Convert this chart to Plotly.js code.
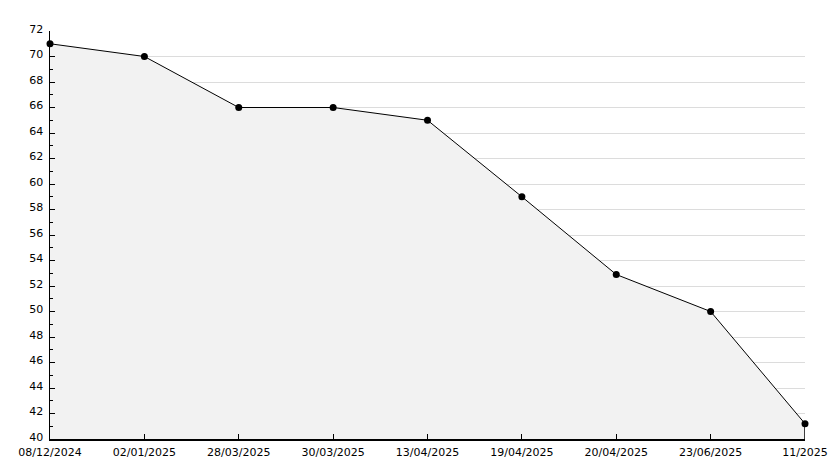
<!DOCTYPE html>
<html><head><meta charset="utf-8">
<script src="https://cdn.plot.ly/plotly-3.0.1.min.js"></script>
<style>html,body{margin:0;padding:0;background:#fff}#c{width:834px;height:468px}</style>
</head><body><div id="c"></div>
<script>
const dates = ["08/12/2024","02/01/2025","28/03/2025","30/03/2025","13/04/2025","19/04/2025","20/04/2025","23/06/2025","11/2025"];
const values = [71, 70, 66, 66, 65, 59, 52.9, 50, 41.2];
const yMin = 40, yMax = 72;

const idx = dates.map((d,i)=>i);
const last = idx.length-1;

const traces = [
  {x: idx, y: values, type:'scatter', mode:'lines', fill:'tozeroy', fillcolor:'#f2f2f2',
   line:{color:'#000', width:1}, hoverinfo:'skip'},
  {x: [last,last], y:[values[last], yMin], type:'scatter', mode:'lines', line:{color:'#000', width:1.5}, hoverinfo:'skip'},
  {x: idx, y: values, type:'scatter', mode:'markers', cliponaxis:false,
   marker:{color:'#000', size:7, symbol:'circle'}, hoverinfo:'skip'}
];

const layout = {
  width:834, height:468, showlegend:false,
  paper_bgcolor:'#fff', plot_bgcolor:'#fff',
  margin:{l:50, r:29, t:31, b:29},
  font:{family:'DejaVu Sans, sans-serif', size:11, color:'#000'},
  xaxis:{range:[0,last], tickmode:'array', tickvals:idx, ticktext:dates, showgrid:false, zeroline:false,
         showline:true, linecolor:'#000', linewidth:1.5, ticks:'inside', ticklen:5, tickcolor:'#000',
         ticklabelstandoff:2, fixedrange:true},
  yaxis:{range:[yMin,yMax], dtick:2, showgrid:true, gridcolor:'#dcdcdc', gridwidth:1, zeroline:false,
         showline:true, linecolor:'#000', linewidth:1.5, ticks:'inside', ticklen:5, tickcolor:'#000',
         ticklabelstandoff:3, ticklabelshift:-2,
         minor:{dtick:1, ticks:'inside', ticklen:3, tickcolor:'#000', showgrid:false}, fixedrange:true}
};
Plotly.newPlot('c', traces, layout, {staticPlot:true});
</script></body></html>
